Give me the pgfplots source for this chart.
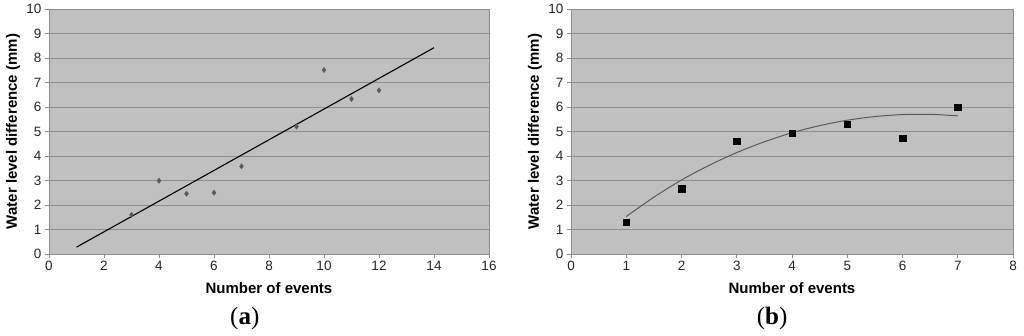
\documentclass[border=0pt]{standalone}
\usepackage{fontspec}
\setmainfont{Liberation Sans}
\newfontfamily\capfont{Liberation Serif}
\usepackage{pgfplots}
\pgfplotsset{compat=1.18}
\definecolor{plotbg}{HTML}{C0C0C0}
\definecolor{gridc}{HTML}{8E8E8E}
\definecolor{axisc}{HTML}{8C8C8C}
\definecolor{markc}{HTML}{5A5A5A}

\pgfplotsset{excel/.style={
  scale only axis, width=440pt, height=245pt, anchor=south west,
  axis background/.style={fill=plotbg},
  ymin=0, ymax=10, ytick={0,...,10},
  ymajorgrids, grid style={gridc,line width=0.9pt},
  axis line style={axisc,line width=0.9pt},
  tick style={axisc,line width=0.9pt},
  tick align=outside, tick pos=left, major tick length=4pt,
  tick label style={font=\fontsize{13.5}{14}\selectfont,text=black!85},
  /pgf/number format/assume math mode=true,
  xlabel={Number of events}, ylabel={Water level difference (mm)},
  xlabel style={at={([yshift=-39pt]rel axis cs:0.5,0)},anchor=base,
    font=\bfseries\fontsize{15}{17}\selectfont},
  ylabel style={at={([xshift=-36pt]rel axis cs:0,0.5)},anchor=center,
    font=\bfseries\fontsize{15}{17}\selectfont},
  clip=false,
}}

\begin{document}
\begin{tikzpicture}
\useasboundingbox (0,0) rectangle (1024pt,335pt);

% (a) linear trend
\begin{axis}[excel, at={(49pt,81pt)}, xmin=0, xmax=16, xtick={0,2,...,16}]
\addplot[only marks, mark=diamond*, mark size=2.6pt, color=markc] coordinates {
  (3,1.60) (4,2.99) (5,2.46) (6,2.50) (7,3.58) (9,5.20) (10,7.51) (11,6.33) (12,6.68)};
\addplot[black, line width=1.1pt] coordinates {(1,0.28) (14,8.42)};
\node[font=\capfont\fontsize{25}{27}\selectfont, anchor=base] at ([yshift=-70pt]rel axis cs:0.445,0) {(\textbf{a})};
\end{axis}

% (b) polynomial trend
\begin{axis}[excel, at={(571pt,81pt)}, width=442pt, xmin=0, xmax=8, xtick={0,...,8}]
\addplot[only marks, mark=square*, mark size=3.2pt, color=black] coordinates {
  (1,1.29) (2,2.67) (3,4.61) (4,4.94) (5,5.31) (6,4.73) (7,5.99)};
\addplot[markc, line width=1pt, smooth] coordinates {
  (1,1.53) (1.5,2.32) (2,3.02) (2.5,3.62) (3,4.14) (3.5,4.58) (4,4.95)
  (4.5,5.24) (5,5.46) (5.5,5.61) (6,5.69) (6.5,5.70) (7,5.64)};
\node[font=\capfont\fontsize{25}{27}\selectfont, anchor=base] at ([yshift=-70pt]rel axis cs:0.455,0) {(\textbf{b})};
\end{axis}
\end{tikzpicture}
\end{document}
